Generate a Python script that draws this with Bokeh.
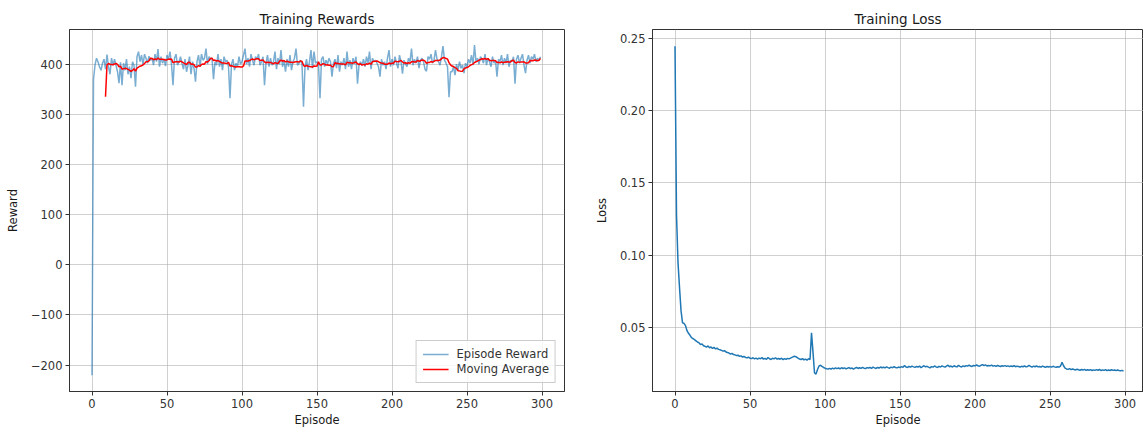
import numpy as np
from bokeh.plotting import figure
from bokeh.layouts import row
from bokeh.models import FixedTicker, Range1d, Legend, LegendItem
from bokeh.embed import file_html
from bokeh.resources import INLINE

episodes = list(range(300))

rewards = [
    -220, 370, 398, 412, 405, 395, 388, 402, 410, 390,
    419, 395, 380, 412, 398, 410, 398, 385, 362, 404,
    358, 402, 388, 410, 380, 395, 372, 405, 398, 355,
    415, 425, 405, 418, 398, 420, 412, 402, 416, 408,
    412, 398, 420, 405, 430, 395, 415, 402, 410, 396,
    418, 410, 425, 400, 358, 412, 420, 398, 405, 415,
    402, 390, 410, 385, 398, 415, 380, 405, 392, 365,
    405, 418, 395, 420, 408, 412, 431, 400, 415, 410,
    412, 370, 405, 398, 420, 395, 410, 388, 415, 405,
    408, 395, 332, 400, 410, 388, 402, 395, 415, 400,
    405, 418, 431, 400, 412, 395, 420, 408, 398, 415,
    410, 420, 398, 405, 415, 358, 402, 418, 395, 412,
    398, 405, 425, 390, 412, 400, 428, 395, 408, 385,
    410, 395, 418, 388, 405, 412, 431, 398, 402, 408,
    400, 315, 395, 410, 388, 405, 428, 392, 425, 402,
    405, 398, 332, 410, 415, 395, 408, 400, 412, 405,
    375, 402, 410, 392, 418, 385, 405, 398, 412, 390,
    425, 395, 408, 390, 412, 400, 415, 361, 398, 405,
    398, 410, 395, 415, 402, 425, 390, 412, 405, 408,
    402, 395, 375, 410, 398, 405, 390, 412, 428, 395,
    410, 398, 415, 402, 392, 418, 405, 381, 408, 400,
    395, 412, 405, 431, 398, 410, 402, 415, 392, 408,
    412, 405, 390, 386, 415, 410, 420, 402, 408, 428,
    410, 405, 398, 415, 436, 408, 402, 395, 334, 385,
    385, 395, 378, 400, 388, 405, 392, 398, 382, 402,
    395, 410, 402, 418, 398, 438, 405, 412, 400, 415,
    410, 402, 420, 398, 412, 405, 395, 415, 402, 408,
    375, 410, 405, 418, 398, 412, 402, 420, 395, 408,
    405, 415, 361, 410, 418, 402, 412, 420, 398, 382,
    408, 418, 402, 415, 410, 420, 405, 412, 408, 415,
]

losses = [
    0.2445, 0.1280, 0.0950, 0.0780, 0.0620, 0.0535, 0.0530, 0.0515, 0.0480, 0.0462,
    0.0448, 0.0432, 0.0425, 0.0418, 0.0410, 0.0402, 0.0396, 0.0384, 0.0389, 0.0376,
    0.0372, 0.0366, 0.0375, 0.0362, 0.0368, 0.0357, 0.0365, 0.0354, 0.0360, 0.0351,
    0.0348, 0.0344, 0.0339, 0.0342, 0.0333, 0.0329, 0.0326, 0.0318, 0.0323, 0.0315,
    0.0313, 0.0308, 0.0311, 0.0303, 0.0306, 0.0298, 0.0302, 0.0295, 0.0293, 0.0297,
    0.0290, 0.0287, 0.0293, 0.0285, 0.0290, 0.0284, 0.0291, 0.0286, 0.0294, 0.0283,
    0.0289, 0.0282, 0.0295, 0.0286, 0.0281, 0.0290, 0.0285, 0.0293, 0.0284, 0.0288,
    0.0283, 0.0290, 0.0280, 0.0287, 0.0282, 0.0289, 0.0285, 0.0291, 0.0296, 0.0301,
    0.0303, 0.0298, 0.0290, 0.0284, 0.0281, 0.0287, 0.0279, 0.0284, 0.0277, 0.0286,
    0.0281, 0.0465, 0.0330, 0.0188, 0.0180, 0.0212, 0.0236, 0.0241, 0.0233, 0.0226,
    0.0221, 0.0217, 0.0215, 0.0220, 0.0214, 0.0221, 0.0216, 0.0223, 0.0218, 0.0222,
    0.0217, 0.0224, 0.0219, 0.0223, 0.0216, 0.0221, 0.0225, 0.0218, 0.0222, 0.0215,
    0.0221, 0.0226, 0.0219, 0.0224, 0.0220, 0.0227, 0.0221, 0.0218, 0.0225, 0.0222,
    0.0226, 0.0220, 0.0228, 0.0223, 0.0219, 0.0226, 0.0222, 0.0229, 0.0224, 0.0227,
    0.0223, 0.0230, 0.0225, 0.0221, 0.0228, 0.0224, 0.0231, 0.0226, 0.0223, 0.0229,
    0.0225, 0.0232, 0.0227, 0.0240, 0.0229, 0.0226, 0.0233, 0.0228, 0.0235, 0.0230,
    0.0227, 0.0233, 0.0229, 0.0236, 0.0224, 0.0231, 0.0238, 0.0230, 0.0234, 0.0228,
    0.0223, 0.0232, 0.0228, 0.0236, 0.0230, 0.0226, 0.0234, 0.0229, 0.0237, 0.0232,
    0.0228, 0.0235, 0.0242, 0.0231, 0.0236, 0.0229, 0.0238, 0.0233, 0.0230, 0.0241,
    0.0234, 0.0229, 0.0237, 0.0232, 0.0239, 0.0235, 0.0242, 0.0236, 0.0233, 0.0240,
    0.0237, 0.0243, 0.0238, 0.0235, 0.0241, 0.0246, 0.0239, 0.0244, 0.0236, 0.0240,
    0.0237, 0.0242, 0.0235, 0.0239, 0.0234, 0.0240, 0.0236, 0.0233, 0.0238, 0.0235,
    0.0239, 0.0234, 0.0237, 0.0232, 0.0236, 0.0233, 0.0238, 0.0231, 0.0235, 0.0232,
    0.0229, 0.0234, 0.0231, 0.0236, 0.0230, 0.0233, 0.0240, 0.0234, 0.0229, 0.0235,
    0.0231, 0.0236, 0.0230, 0.0233, 0.0228, 0.0235, 0.0231, 0.0227, 0.0233, 0.0229,
    0.0232, 0.0228, 0.0234, 0.0230, 0.0227, 0.0231, 0.0229, 0.0236, 0.0262, 0.0238,
    0.0222, 0.0216, 0.0213, 0.0218, 0.0211, 0.0215, 0.0212, 0.0209, 0.0214, 0.0210,
    0.0207, 0.0212, 0.0208, 0.0213, 0.0206, 0.0210, 0.0207, 0.0211, 0.0205, 0.0209,
    0.0206, 0.0211, 0.0207, 0.0212, 0.0205, 0.0209, 0.0206, 0.0211, 0.0204, 0.0208,
    0.0205, 0.0210, 0.0206, 0.0209, 0.0204, 0.0208, 0.0205, 0.0203, 0.0206, 0.0201,
]

window = 10
episode_ticks = [0, 50, 100, 150, 200, 250, 300]
reward_ticks = [-200, -100, 0, 100, 200, 300, 400]
loss_ticks = [0.05, 0.10, 0.15, 0.20, 0.25]

moving_avg = np.convolve(np.array(rewards, dtype=float), np.ones(window) / window, mode="valid")
ma_episodes = episodes[window - 1:]

FONT = "DejaVu Sans"
TICK_COLOR = "#333333"


def style(p, xlabel, ylabel, label_standoff):
    p.title.text_font = FONT
    p.title.text_font_size = "13.5px"
    p.title.text_font_style = "normal"
    p.title.text_color = "#1a1a1a"
    p.title.align = "center"
    p.title.standoff = 5
    p.outline_line_color = "#333333"
    p.outline_line_width = 1
    p.xgrid.grid_line_color = "#b0b0b0"
    p.ygrid.grid_line_color = "#b0b0b0"
    p.xgrid.grid_line_alpha = 0.6
    p.ygrid.grid_line_alpha = 0.6
    p.xgrid.grid_line_width = 1
    p.ygrid.grid_line_width = 1
    for ax in (p.xaxis[0], p.yaxis[0]):
        ax.axis_line_color = "#333333"
        ax.major_tick_line_color = "#333333"
        ax.major_tick_out = 4
        ax.major_tick_in = 0
        ax.minor_tick_line_color = None
        ax.major_label_text_font = FONT
        ax.major_label_text_font_size = "11.5px"
        ax.major_label_text_color = TICK_COLOR
        ax.axis_label_text_font = FONT
        ax.axis_label_text_font_size = "11.5px"
        ax.axis_label_text_font_style = "normal"
        ax.axis_label_text_color = "#1a1a1a"
        ax.major_label_standoff = 3
    p.xaxis[0].axis_label = xlabel
    p.yaxis[0].axis_label = ylabel
    p.xaxis[0].axis_label_standoff = 2
    p.yaxis[0].axis_label_standoff = label_standoff
    p.xaxis[0].ticker = FixedTicker(ticks=episode_ticks)


# ---- Left: Training Rewards ----
p1 = figure(width=580, height=433, title="Training Rewards",
            x_range=Range1d(-15, 315), y_range=Range1d(-252.6, 469.2),
            output_backend="svg", toolbar_location=None,
            min_border_left=69, min_border_right=16,
            min_border_top=29, min_border_bottom=42)
style(p1, "Episode", "Reward", 8)
p1.yaxis[0].ticker = FixedTicker(ticks=reward_ticks)
p1.yaxis[0].major_label_overrides = {t: (str(t).replace("-", "\u2212")) for t in reward_ticks}

r_ep = p1.line(episodes, rewards, line_color="#1f77b4", line_alpha=0.6, line_width=1.5)
r_ma = p1.line(ma_episodes, moving_avg, line_color="red", line_width=1.5)

legend = Legend(items=[LegendItem(label="Episode Reward", renderers=[r_ep]),
                       LegendItem(label="Moving Average", renderers=[r_ma])],
                location="bottom_right")
legend.label_text_font = FONT
legend.label_text_font_size = "11.5px"
legend.label_text_color = "#333333"
legend.border_line_color = "#cccccc"
legend.border_line_alpha = 1
legend.background_fill_alpha = 0.8
legend.margin = 8
legend.padding = 6
legend.spacing = 1
legend.glyph_height = 14
legend.label_height = 14
legend.glyph_width = 26
legend.label_standoff = 8
p1.add_layout(legend)

# ---- Right: Training Loss ----
p2 = figure(width=563, height=433, title="Training Loss",
            x_range=Range1d(-15, 312.3), y_range=Range1d(0.006, 0.256),
            output_backend="svg", toolbar_location=None,
            min_border_left=72, min_border_right=0,
            min_border_top=29, min_border_bottom=42)
style(p2, "Episode", "Loss", 8)
p2.yaxis[0].ticker = FixedTicker(ticks=loss_ticks)
p2.yaxis[0].major_label_overrides = {t: "%.2f" % t for t in loss_ticks}
p2.line(episodes, losses, line_color="#1f77b4", line_width=1.5)

layout = row(p1, p2)
open("out.html", "w").write(file_html(layout, INLINE))
